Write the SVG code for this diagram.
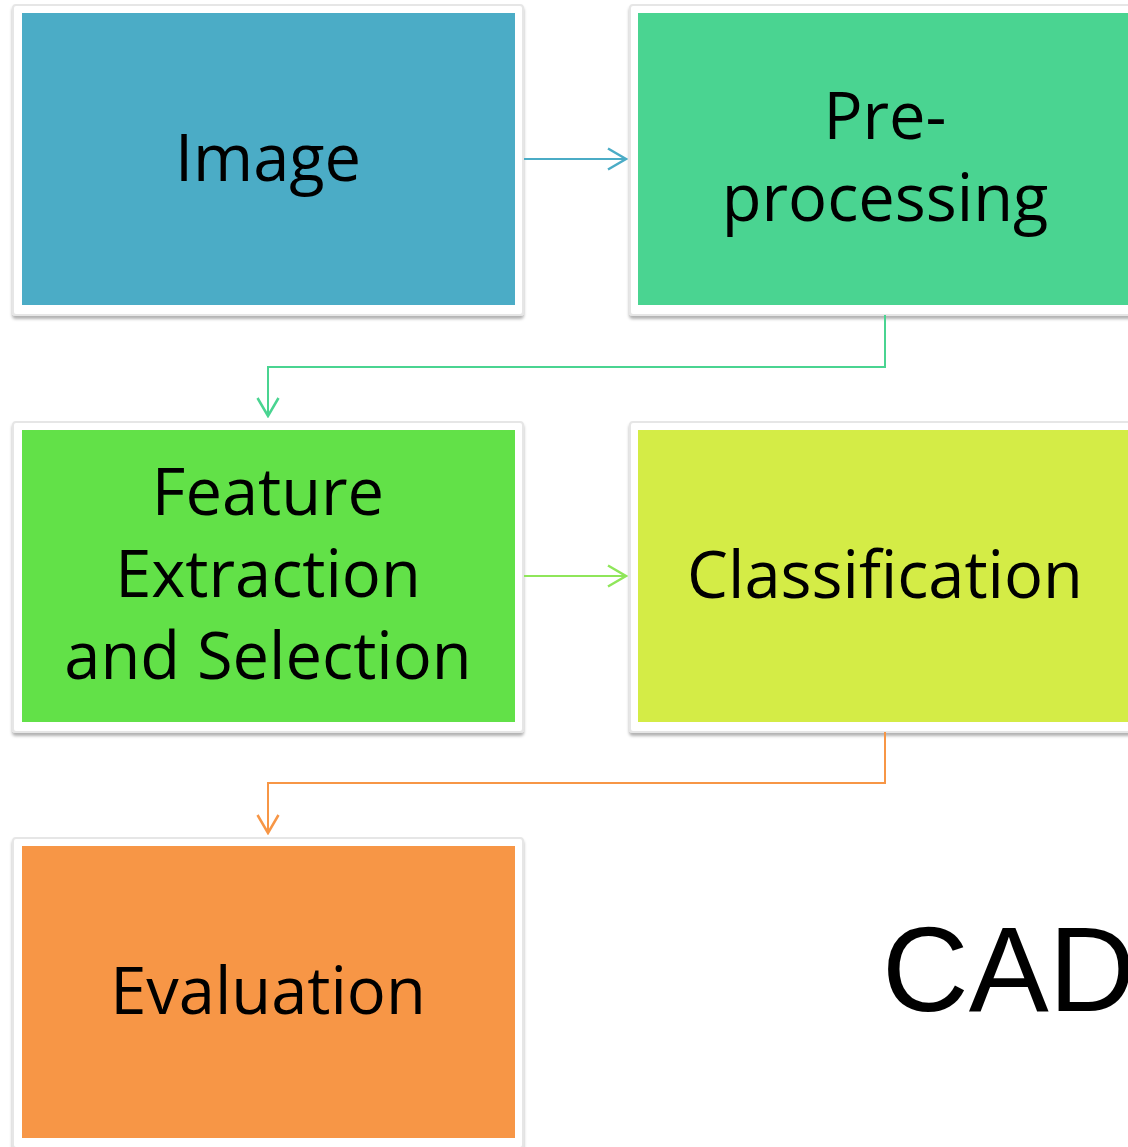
<svg xmlns="http://www.w3.org/2000/svg" width="1128" height="1147" viewBox="0 0 1128 1147">
<defs>
<filter id="sh" x="-5%" y="-5%" width="110%" height="115%">
<feDropShadow dx="0" dy="3" stdDeviation="1.5" flood-color="#000" flood-opacity="0.3"/>
</filter>
<marker id="ah" viewBox="0 0 22 24" refX="20" refY="12" markerWidth="22" markerHeight="24" markerUnits="userSpaceOnUse" orient="auto">
<path d="M2,1.5 L20,12 L2,22.5" fill="none" stroke="context-stroke" stroke-width="2.5"/>
</marker>
</defs>
<style>
.frame{fill:#fff;stroke:#e6e6e6;stroke-width:2;filter:url(#sh)}
.lbl{font-family:"Open Sans","Liberation Sans",sans-serif;font-size:65px;fill:#000;text-anchor:middle}
.con{fill:none;stroke-width:2}
</style>
<rect width="1128" height="1147" fill="#fff"/>
<g id="image">
<rect class="frame" x="13" y="5" width="510" height="310" rx="3"/>
<rect x="22" y="13" width="493" height="292" fill="#4BACC6"/>
<text class="lbl" x="268" y="181">Image</text>
</g>
<g id="preprocessing">
<rect class="frame" x="630" y="5" width="510" height="310" rx="3"/>
<rect x="638" y="13" width="493" height="292" fill="#4AD491"/>
<text class="lbl" x="885" y="139">Pre-</text>
<text class="lbl" x="885" y="221">processing</text>
</g>
<g id="feature">
<rect class="frame" x="13" y="422" width="510" height="310" rx="3"/>
<rect x="22" y="430" width="493" height="292" fill="#62E148"/>
<text class="lbl" x="268" y="515">Feature</text>
<text class="lbl" x="268" y="597">Extraction</text>
<text class="lbl" x="268" y="679">and Selection</text>
</g>
<g id="classification">
<rect class="frame" x="630" y="422" width="510" height="310" rx="3"/>
<rect x="638" y="430" width="493" height="292" fill="#D4EC46"/>
<text class="lbl" x="885" y="598">Classification</text>
</g>
<g id="evaluation">
<rect class="frame" x="13" y="838" width="510" height="310" rx="3"/>
<rect x="22" y="846" width="493" height="292" fill="#F79646"/>
<text class="lbl" x="268" y="1014">Evaluation</text>
</g>
<g id="cad">
<text x="882" y="1011" font-family="'Liberation Sans',Arial,sans-serif" font-size="120" fill="#000">CAD</text>
</g>
<g id="connectors">
<path class="con" d="M524,159 H626" stroke="#4BACC6" marker-end="url(#ah)"/>
<path class="con" d="M885,315 V367 H268 V416" stroke="#4AD491" marker-end="url(#ah)"/>
<path class="con" d="M524,576 H626" stroke="#8FE65A" marker-end="url(#ah)"/>
<path class="con" d="M885,732 V783 H268 V833" stroke="#F79646" marker-end="url(#ah)"/>
</g>
</svg>
